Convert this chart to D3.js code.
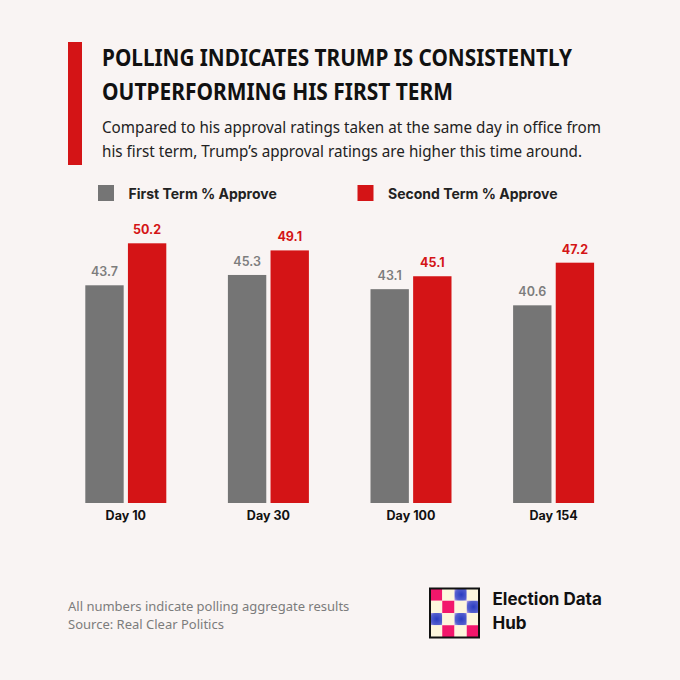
<!DOCTYPE html>
<html>
<head>
<meta charset="utf-8">
<script src="https://cdn.jsdelivr.net/npm/d3@7"></script>
<style>
  html, body { margin: 0; padding: 0; background: #f9f4f3; }
  svg { display: block; }
</style>
</head>
<body>
<svg id="chart"></svg>
<script>
// chart data
const days = ["Day 10", "Day 30", "Day 100", "Day 154"];
const firstTerm = [43.7, 45.3, 43.1, 40.6];
const secondTerm = [50.2, 49.1, 45.1, 47.2];
const seriesNames = ["First Term % Approve", "Second Term % Approve"];

const titleLines = ["POLLING INDICATES TRUMP IS CONSISTENTLY", "OUTPERFORMING HIS FIRST TERM"];
const subtitleLines = [
	"Compared to his approval ratings taken at the same day in office from",
	"his first term, Trump\u2019s approval ratings are higher this time around."
];
const footerLines = ["All numbers indicate polling aggregate results", "Source: Real Clear Politics"];
const logoText = ["Election Data", "Hub"];
// logo grid: P = pink, C = cream, B = blue
const logoRows = ["PCBC", "CPCB", "BCBC", "CPCP"];

const config = {
	width: 680,
	height: 680,
	bg: "#f9f4f3",
	red: "#d41416",
	grey: "#757575",
	font: "'Noto Sans', sans-serif",
	labelFont: "Inter, 'Noto Sans', sans-serif"
};

const svg = d3.select("#chart")
	.attr("width", config.width)
	.attr("height", config.height);

svg.append("rect")
	.attr("width", config.width)
	.attr("height", config.height)
	.attr("fill", config.bg);

// gradient for the blue logo cells
const defs = svg.append("defs");
const grad = defs.append("radialGradient").attr("id", "logoBlue").attr("cx", "55%").attr("cy", "50%").attr("r", "75%");
grad.append("stop").attr("offset", "0%").attr("stop-color", "#2a3cc0");
grad.append("stop").attr("offset", "65%").attr("stop-color", "#5560cf");
grad.append("stop").attr("offset", "100%").attr("stop-color", "#cfaee8");

// Header
svg.append("rect")
	.attr("x", 68).attr("y", 42)
	.attr("width", 14).attr("height", 123)
	.attr("fill", config.red);

const titleWidths = [470, 351];
svg.append("g").selectAll("text")
	.data(titleLines)
	.join("text")
	.attr("x", 102)
	.attr("y", (d, i) => 65.5 + i * 34)
	.attr("textLength", (d, i) => titleWidths[i])
	.attr("lengthAdjust", "spacingAndGlyphs")
	.attr("font-family", config.font)
	.attr("font-weight", "bold")
	.attr("font-size", "22.5px")
	.attr("fill", "#111")
	.text(d => d);

const subWidths = [499, 480];
svg.append("g").selectAll("text")
	.data(subtitleLines)
	.join("text")
	.attr("x", 102)
	.attr("y", (d, i) => 132.5 + i * 24.5)
	.attr("textLength", (d, i) => subWidths[i])
	.attr("lengthAdjust", "spacingAndGlyphs")
	.attr("font-family", config.font)
	.attr("font-size", "17px")
	.attr("fill", "#222")
	.text(d => d);

// Legend
const color = d3.scaleOrdinal().domain(seriesNames).range([config.grey, config.red]);
const legendX = [98, 357.5];
const legend = svg.append("g").selectAll("g")
	.data(seriesNames)
	.join("g")
	.attr("transform", (d, i) => `translate(${legendX[i]}, 185)`);

legend.append("rect")
	.attr("width", 16).attr("height", 16)
	.attr("fill", d => color(d));

legend.append("text")
	.attr("x", 30.5)
	.attr("y", 14)
	.attr("font-family", config.labelFont)
	.attr("font-weight", "bold")
	.attr("font-size", "14px")
	.attr("fill", "#222")
	.text(d => d);

// Scales
const x0 = d3.scaleBand()
	.domain(days)
	.range([85.3, 594.1])
	.paddingInner(0.432)
	.paddingOuter(0);

const x1 = d3.scaleBand()
	.domain(seriesNames)
	.range([0, x0.bandwidth()])
	.paddingInner(0.1);

const y = d3.scaleLinear()
	.domain([10, 50])
	.range([503, 244.6]);

const rows = days.map((d, i) => ({
	day: d,
	values: [
		{ key: seriesNames[0], value: firstTerm[i] },
		{ key: seriesNames[1], value: secondTerm[i] }
	]
}));

const groups = svg.append("g").selectAll("g")
	.data(rows)
	.join("g")
	.attr("transform", d => `translate(${x0(d.day)}, 0)`);

groups.selectAll("rect")
	.data(d => d.values)
	.join("rect")
	.attr("x", d => x1(d.key))
	.attr("y", d => y(d.value))
	.attr("width", x1.bandwidth())
	.attr("height", d => y(10) - y(d.value))
	.attr("fill", d => color(d.key));

groups.selectAll("text.value")
	.data(d => d.values)
	.join("text")
	.attr("class", "value")
	.attr("x", d => x1(d.key) + x1.bandwidth() / 2)
	.attr("y", d => y(d.value) - 9)
	.attr("text-anchor", "middle")
	.attr("font-family", config.labelFont)
	.attr("font-weight", (d, i) => i === 0 ? 600 : "bold")
	.attr("font-size", "12.5px")
	.attr("fill", (d, i) => i === 0 ? "#7d7d7d" : config.red)
	.text(d => d.value.toFixed(1));

// X axis labels
const xAxis = g => g.attr("transform", `translate(0, 503)`)
	.call(d3.axisBottom(x0).tickSize(0).tickPadding(8))
	.call(g => g.select(".domain").remove())
	.call(g => g.selectAll("text")
		.attr("font-family", config.labelFont)
		.attr("font-weight", "bold")
		.attr("font-size", "12.5px")
		.attr("fill", "#111"));
svg.append("g").call(xAxis);

// Footer
svg.append("g").selectAll("text")
	.data(footerLines)
	.join("text")
	.attr("x", 68)
	.attr("y", (d, i) => 611 + i * 17.5)
	.attr("font-family", config.font)
	.attr("font-size", "13px")
	.attr("fill", "#7c7c7c")
	.text(d => d);

// Logo
const logo = svg.append("g").attr("transform", "translate(430, 588.5)");
const logoSize = 49;
const cellColor = { P: "#f2176b", C: "#fdf6dd", B: "url(#logoBlue)" };
const lx = d3.scaleBand().domain(d3.range(4)).range([0, logoSize]);
logoRows.forEach((row, r) => {
	logo.append("g").selectAll("rect")
		.data(row.split(""))
		.join("rect")
		.attr("x", (d, c) => lx(c))
		.attr("y", lx(r))
		.attr("width", lx.bandwidth())
		.attr("height", lx.bandwidth())
		.attr("fill", d => cellColor[d]);
});
logo.append("rect")
	.attr("width", logoSize).attr("height", logoSize)
	.attr("fill", "none")
	.attr("stroke", "#111")
	.attr("stroke-width", 2);

svg.append("g").selectAll("text")
	.data(logoText)
	.join("text")
	.attr("x", 492.5)
	.attr("y", (d, i) => 605 + i * 24)
	.attr("font-family", config.labelFont)
	.attr("font-weight", "bold")
	.attr("font-size", "17px")
	.attr("fill", "#111")
	.text(d => d);
</script>
</body>
</html>
